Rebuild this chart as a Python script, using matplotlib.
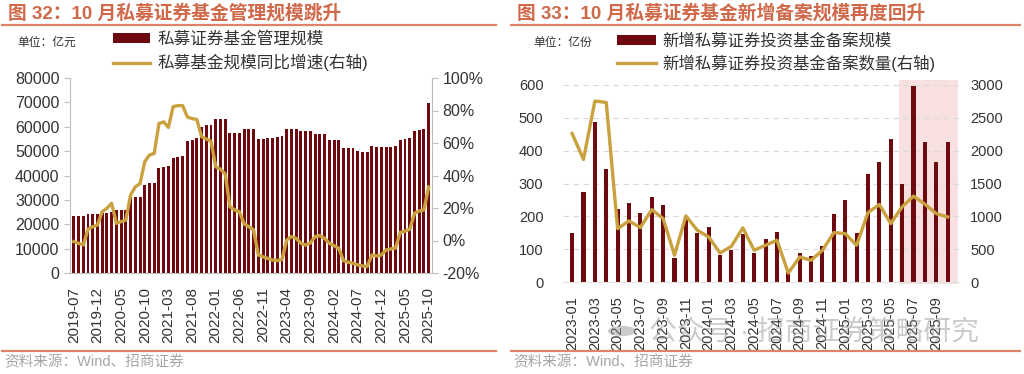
import pandas as pd
import matplotlib
matplotlib.use("Agg")
import matplotlib.pyplot as plt
from matplotlib.patches import Rectangle, Circle
from matplotlib.lines import Line2D

plt.rcParams['font.family'] = ['Liberation Sans', 'Noto Sans CJK SC', 'DejaVu Sans']
plt.rcParams['axes.unicode_minus'] = False

# 图32: 私募证券基金管理规模(亿元), 同比增速(%)
months_32 = pd.period_range('2019-07', '2025-10', freq='M').strftime('%Y-%m').tolist()
aum_32 = [23500, 23200, 23200, 24200, 24100, 24100, 24500, 24800, 25200, 25900, 25900, 25900,
          31000, 31300, 31300, 36100, 36800, 37100, 43000, 43400, 44000, 47300, 47700, 48000,
          54000, 54600, 55300, 60000, 60700, 60700, 63100, 63100, 63100, 57300, 57300, 57300,
          59200, 59200, 59200, 55100, 55100, 55200, 55500, 56000, 56200, 59000, 59000, 59000,
          58400, 58400, 58400, 56900, 56900, 56900, 54700, 54600, 54600, 51400, 51400, 51400,
          49900, 49800, 49800, 52000, 51800, 51600, 51800, 51800, 52100, 54600, 55000, 55300,
          58300, 58700, 59200, 69900]
yoy_32 = [-0.7, -1.7, -2.8, 6.9, 8.5, 9.5, 17.7, 19.8, 22.9, 10.6, 11.6, 12.6,
          28, 33, 35, 48.5, 52.6, 53.6, 72, 73, 69.6, 82.4, 83, 83,
          76, 75, 74.5, 64, 62.5, 61, 45.4, 43.8, 41, 20.8, 18.8, 17.7,
          10.2, 8.5, 6.5, -8.9, -10, -11, -12, -12.4, -11.6, 0.3, 2.4, 1.3,
          -1.7, -2.8, -1.5, 2.4, 3, 1.3, -1.7, -3.2, -4.8, -12.4, -13.4, -14,
          -15, -15.7, -16, -8.9, -9.5, -8.9, -5.8, -5.2, -4.6, 5, 5.8, 6.9,
          16.7, 18.2, 18.8, 33]

# 图33: 新增备案规模(亿份), 新增备案数量(只)
months_33 = pd.period_range('2023-01', '2025-10', freq='M').strftime('%Y-%m').tolist()
scale_33 = [150, 275, 486, 344, 221, 242, 211, 258, 234, 73, 195, 150,
            168, 81, 97, 147, 88, 130, 152, 30, 88, 79, 110, 208,
            251, 150, 328, 364, 436, 298, 597, 426, 365, 427]
count_33 = [2262, 1866, 2755, 2735, 813, 930, 829, 1103, 966, 407, 1007, 788,
            686, 442, 544, 824, 483, 560, 636, 137, 381, 330, 483, 752,
            737, 559, 1057, 1180, 890, 1144, 1307, 1185, 1042, 991]
highlight_33 = ('2025-06', '2025-10')

BAR = '#6E0A0F'
GOLD = '#C9A13E'
TITLE = '#D0694A'
RULE = '#DE8466'
TXT = '#333333'

W, H = 1024, 374
fig = plt.figure(figsize=(W / 100, H / 100), dpi=100)


def fx(px):
    return px / W


def fy(py):
    return 1 - py / H


def header(x0, x1, title, unit, unit_x):
    fig.text(fx(x0), fy(13), title, fontsize=13.5, fontweight='bold', color=TITLE,
             va='center', ha='left')
    fig.add_artist(Line2D([fx(x0 - 6), fx(x1)], [fy(24.5)] * 2, color=RULE, lw=1.6))
    fig.add_artist(Line2D([fx(x0 - 6), fx(x1)], [fy(351)] * 2, color=RULE, lw=1.6))
    fig.text(fx(x0 - 4), fy(362), '资料来源：Wind、招商证券', fontsize=10.5, color='#A6A6A6',
             va='center', ha='left')
    fig.text(fx(unit_x), fy(43), unit, fontsize=8.5, color=TXT, va='center', ha='left')


# ---------- 图32 ----------
header(8, 496, '图 32：10 月私募证券基金管理规模跳升', '单位：亿元', 17)
ax1 = fig.add_axes([fx(70), fy(273), fx(432 - 70), (273 - 78) / H])
x1 = range(len(months_32))
b1 = ax1.bar(x1, aum_32, width=0.62, color=BAR, label='私募证券基金管理规模')
ax1.set_ylim(0, 80000)
ax1.set_xlim(-0.8, len(months_32) - 0.3)
ax1.set_yticks(range(0, 80001, 10000))
ax1.set_xticks(list(x1)[::5])
ax1.set_xticklabels(months_32[::5], rotation=90)
ax1.tick_params(axis='y', labelsize=11.5, colors='#BFBFBF', labelcolor=TXT, length=4, width=0.8)
ax1.tick_params(axis='x', labelsize=11, labelcolor=TXT, length=0, pad=10)
for s in ['top', 'right']:
    ax1.spines[s].set_visible(False)
for s in ['left', 'bottom']:
    ax1.spines[s].set_color('#BFBFBF')
    ax1.spines[s].set_linewidth(0.8)

ax1r = ax1.twinx()
l1, = ax1r.plot(x1, yoy_32, color=GOLD, lw=2.4, label='私募基金规模同比增速(右轴)')
ax1r.set_ylim(-20, 100)
ax1r.set_yticks(range(-20, 101, 20))
ax1r.set_yticklabels([f'{v}%' for v in range(-20, 101, 20)])
ax1r.tick_params(axis='y', labelsize=11.5, colors='#BFBFBF', labelcolor=TXT, length=4, width=0.8)
for s in ['top', 'left', 'bottom']:
    ax1r.spines[s].set_visible(False)
ax1r.spines['right'].set_color('#BFBFBF')
ax1r.spines['right'].set_linewidth(0.8)

fig.legend([b1, l1], [b1.get_label(), l1.get_label()], loc='upper left',
           bbox_to_anchor=(fx(113), fy(31)), frameon=False, borderpad=0, borderaxespad=0,
           handlelength=2.2, handleheight=0.55, handletextpad=0.45, labelspacing=0.45,
           fontsize=12, labelcolor=TXT)

# ---------- 图33 ----------
header(517, 1020, '图 33：10 月私募证券基金新增备案规模再度回升', '单位：亿份', 533)
ax2 = fig.add_axes([fx(563), fy(282), fx(959 - 563), (282 - 85) / H])
x2 = range(len(months_33))
ax2.grid(axis='y', color='#D9D9D9', ls=(0, (5, 4)), lw=0.8)
ax2.set_axisbelow(True)
b2 = ax2.bar(x2, scale_33, width=0.36, color=BAR, label='新增私募证券投资基金备案规模')
ax2.set_ylim(0, 600)
ax2.set_xlim(-0.8, len(months_33))
ax2.set_yticks(range(0, 601, 100))
ax2.set_xticks(list(x2)[::2])
ax2.set_xticklabels(months_33[::2], rotation=90)
ax2.tick_params(axis='y', labelsize=10.5, labelcolor=TXT, length=0, pad=14)
ax2.tick_params(axis='x', labelsize=10.5, labelcolor=TXT, length=0, pad=10)
for s in ['top', 'right', 'left']:
    ax2.spines[s].set_visible(False)
ax2.spines['bottom'].set_color('#E3E3E3')

h0 = months_33.index(highlight_33[0])
h1 = months_33.index(highlight_33[1])
ax2.add_patch(Rectangle((h0 - 0.3, -0.01), h1 - h0 + 1.2, 1.035, transform=ax2.get_xaxis_transform(),
                        color='#F4CCCC', alpha=0.6, lw=0, clip_on=False, zorder=0))

ax2r = ax2.twinx()
l2, = ax2r.plot(x2, count_33, color=GOLD, lw=2.4, label='新增私募证券投资基金备案数量(右轴)')
ax2r.set_ylim(0, 3000)
ax2r.set_yticks(range(0, 3001, 500))
ax2r.tick_params(axis='y', labelsize=10.5, labelcolor=TXT, length=0, pad=8)
for s in ['top', 'left', 'bottom', 'right']:
    ax2r.spines[s].set_visible(False)

fig.legend([b2, l2], [b2.get_label(), l2.get_label()], loc='upper left',
           bbox_to_anchor=(fx(617), fy(33)), frameon=False, borderpad=0, borderaxespad=0,
           handlelength=2.4, handleheight=0.55, handletextpad=0.35, labelspacing=0.35,
           fontsize=11.8, labelcolor=TXT)

# watermark (overlaps the tick labels in the reference as well)
fig.add_artist(Circle((fx(622), fy(331)), 14 / W, transform=fig.transFigure,
                      color='#8C8C8C', alpha=0.45, lw=0))
fig.text(fx(649), fy(333), '公众号 · 招商证券策略研究', fontsize=20, color='#8C8C8C',
         alpha=0.45, va='center', ha='left')

fig.savefig('out.png', dpi=100)
